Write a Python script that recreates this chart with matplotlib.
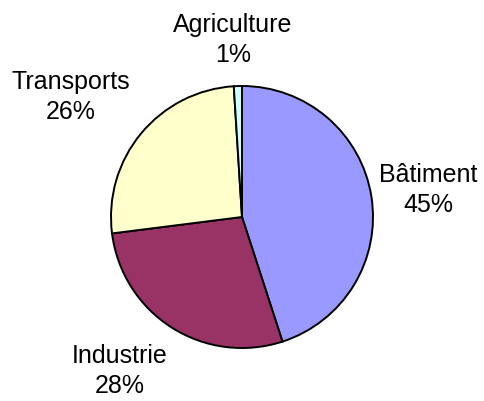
import matplotlib
matplotlib.use('Agg')
import matplotlib.pyplot as plt

# energy consumption share by sector
sectors = ['Bâtiment', 'Industrie', 'Transports', 'Agriculture']
shares = [45, 28, 26, 1]
colors = ['#9999FF', '#993366', '#FFFFCC', '#CCFFFF']

W, H = 485, 401
fig = plt.figure(figsize=(W / 100, H / 100), dpi=100)
ax = fig.add_axes([0, 0, 1, 1])

# pixel-like coordinates, y measured from the bottom
ax.pie(shares, colors=colors, startangle=90, counterclock=False,
       center=(242, H - 217), radius=131, frame=True,
       wedgeprops={'edgecolor': 'black', 'linewidth': 1.4})

# label positions (pixels from the top-left corner)
label_pos = [(428, 190), (120, 371), (71, 97), (233, 40)]
for name, val, (x, y) in zip(sectors, shares, label_pos):
    ax.text(x, H - y, f'{name}\n{val}%', ha='center', va='center',
            multialignment='center', fontsize=18, family='Liberation Sans',
            linespacing=1.3)

ax.set_xlim(0, W)
ax.set_ylim(0, H)
ax.set_aspect('equal')
ax.axis('off')

fig.savefig('out.png', dpi=100, facecolor='white')
